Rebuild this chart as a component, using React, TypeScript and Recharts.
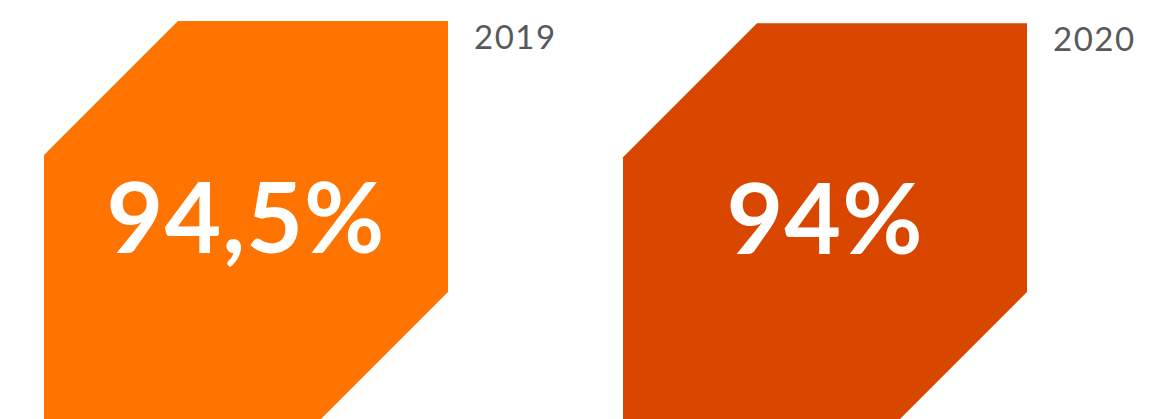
import React from "react";
import { BarChart, Bar, XAxis, YAxis, Cell, LabelList } from "recharts";

const years = ["2019", "2020"];
const values = [94.5, 94];
const valueLabels = ["94,5%", "94%"];
const colors = ["#FF7300", "#D84600"];

const data = years.map((year, i) => ({ year, value: values[i], text: valueLabels[i] }));

// octagon-ish block: top-left and bottom-right corners cut at 45deg
const Block = (props: any) => {
  const { x, y, width, height, fill } = props;
  const c = width * (134 / 404);
  const pts = [
    [x + c, y],
    [x + width, y],
    [x + width, y + height - c],
    [x + width - c, y + height],
    [x, y + height],
    [x, y + c],
  ]
    .map((p) => p.join(","))
    .join(" ");
  return <polygon points={pts} fill={fill} />;
};

const ValueText = (props: any) => {
  const { x, y, width, height, index } = props;
  return (
    <text
      x={x + width / 2}
      y={y + height / 2 + 29}
      textAnchor="middle"
      fill="#fff"
      fontFamily="Lato, sans-serif"
      fontWeight={700}
      fontSize={98}
      letterSpacing={1}
    >
      {valueLabels[index]}
    </text>
  );
};

const YearText = (props: any) => {
  const { x, y, width, index } = props;
  return (
    <text
      x={x + width + 26}
      y={y + 28}
      fill="#58595b"
      fontFamily="Lato, sans-serif"
      fontSize={33}
      letterSpacing={1.5}
    >
      {years[index]}
    </text>
  );
};

export default function App() {
  return (
    <div style={{ width: 1155, height: 411, overflow: "hidden" }}>
      <BarChart
        width={1155}
        height={420}
        data={data}
        margin={{ top: 13, right: 49, bottom: 2, left: -52 }}
        barCategoryGap={0}
      >
        <XAxis dataKey="year" hide />
        <YAxis hide domain={[0, 94.5]} />
        <Bar dataKey="value" barSize={404} shape={<Block />} isAnimationActive={false}>
          {data.map((d, i) => (
            <Cell key={d.year} fill={colors[i]} />
          ))}
          <LabelList dataKey="value" content={<ValueText />} />
          <LabelList dataKey="year" content={<YearText />} />
        </Bar>
      </BarChart>
    </div>
  );
}
